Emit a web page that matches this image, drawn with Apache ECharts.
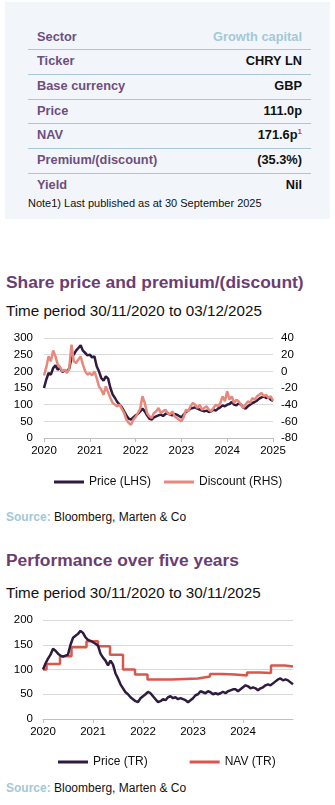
<!DOCTYPE html>
<html>
<head>
<meta charset="utf-8">
<script src="https://cdn.jsdelivr.net/npm/echarts@6/dist/echarts.min.js"></script>
<style>
  body { margin: 0; background: #ffffff; font-family: "Liberation Sans", Arial, sans-serif; }
  #page { position: relative; width: 335px; height: 805px; overflow: hidden; }
  .box { position: absolute; left: 5px; top: 2px; width: 325px; height: 217px; background: #f2f6fa; }
  .row { position: absolute; left: 28px; width: 283px; height: 24px; line-height: 24px; font-size: 12.8px; font-weight: bold; }
  .row .k { position: absolute; left: 9px; top: 0; color: #6e4f7e; }
  .row .v { position: absolute; right: 9px; top: 0; color: #111111; }
  .row .v.light { color: #a3c8d8; }
  .row sup { font-size: 8px; color: #d0443a; line-height: 0; vertical-align: 5px; }
  .rule { position: absolute; left: 28px; width: 283px; height: 1px; background: #a8c8d7; }
  .note { position: absolute; left: 28px; top: 196px; font-size: 11px; line-height: 14px; color: #111111; }
  .title { position: absolute; left: 6px; font-size: 17.4px; font-weight: bold; color: #6b3d73; line-height: 20px; white-space: nowrap; }
  .sub { position: absolute; left: 6px; font-size: 15.2px; color: #111111; line-height: 18px; white-space: nowrap; }
  .src { position: absolute; left: 6px; font-size: 12px; color: #111111; line-height: 14px; white-space: nowrap; }
  .src b { color: #a3c8d8; }
  .chart { position: absolute; left: 0; width: 335px; }
</style>
</head>
<body>
<div id="page">
  <div class="box"></div>
  <div class="row" style="top:25px"><span class="k">Sector</span><span class="v light">Growth capital</span></div>
  <div class="rule" style="top:49px"></div>
  <div class="row" style="top:49px"><span class="k">Ticker</span><span class="v">CHRY LN</span></div>
  <div class="rule" style="top:74px"></div>
  <div class="row" style="top:74px"><span class="k">Base currency</span><span class="v">GBP</span></div>
  <div class="rule" style="top:99px"></div>
  <div class="row" style="top:99px"><span class="k">Price</span><span class="v">111.0p</span></div>
  <div class="rule" style="top:123px"></div>
  <div class="row" style="top:123px"><span class="k">NAV</span><span class="v">171.6p<sup>1</sup></span></div>
  <div class="rule" style="top:148px"></div>
  <div class="row" style="top:148px"><span class="k">Premium/(discount)</span><span class="v">(35.3%)</span></div>
  <div class="rule" style="top:173px"></div>
  <div class="row" style="top:173px"><span class="k">Yield</span><span class="v">Nil</span></div>
  <div class="note">Note1) Last published as at 30 September 2025</div>

  <div class="title" style="top:272px">Share price and premium/(discount)</div>
  <div class="sub" style="top:302px">Time period 30/11/2020 to 03/12/2025</div>
  <div id="chart1" class="chart" style="top:320px;height:180px"></div>
  <div class="src" style="top:510px"><b>Source:</b> Bloomberg, Marten &amp; Co</div>

  <div class="title" style="top:550px">Performance over five years</div>
  <div class="sub" style="top:584px">Time period 30/11/2020 to 30/11/2025</div>
  <div id="chart2" class="chart" style="top:605px;height:165px"></div>
  <div class="src" style="top:781px"><b>Source:</b> Bloomberg, Marten &amp; Co</div>
</div>

<script>
// Sample dates, expressed in years on the axis (axis year N = 30 November of year N)
const sampleYears = [
  2020.00, 2020.05, 2020.10, 2020.15, 2020.20, 2020.25, 2020.30, 2020.35, 2020.40, 2020.45,
  2020.50, 2020.55, 2020.60, 2020.65, 2020.70, 2020.75, 2020.80, 2020.85, 2020.90, 2020.95,
  2021.00, 2021.05, 2021.10, 2021.15, 2021.20, 2021.25, 2021.30, 2021.35, 2021.40, 2021.45,
  2021.50, 2021.55, 2021.60, 2021.65, 2021.70, 2021.75, 2021.80, 2021.85, 2021.90, 2021.95,
  2022.00, 2022.05, 2022.10, 2022.15, 2022.20, 2022.25, 2022.30, 2022.35, 2022.40, 2022.45,
  2022.50, 2022.55, 2022.60, 2022.65, 2022.70, 2022.75, 2022.80, 2022.85, 2022.90, 2022.95,
  2023.00, 2023.05, 2023.10, 2023.15, 2023.20, 2023.25, 2023.30, 2023.35, 2023.40, 2023.45,
  2023.50, 2023.55, 2023.60, 2023.65, 2023.70, 2023.75, 2023.80, 2023.85, 2023.90, 2023.95,
  2024.00, 2024.05, 2024.10, 2024.15, 2024.20, 2024.25, 2024.30, 2024.35, 2024.40, 2024.45,
  2024.50, 2024.55, 2024.60, 2024.65, 2024.70, 2024.75, 2024.80, 2024.85, 2024.90, 2024.95,
  2025.00
];

// Share price, pence (left axis)
const sharePrice = [
  150, 175, 195, 190, 210, 218, 205, 210, 198, 202,
  200, 208, 240, 250, 262, 270, 278, 262, 255, 248,
  250, 242, 245, 215, 200, 180, 172, 185, 178, 150,
  130, 120, 108, 100, 92, 80, 68, 58, 55, 62,
  68, 72, 80, 88, 80, 68, 58, 55, 62, 65,
  68, 70, 66, 72, 75, 70, 68, 72, 70, 66,
  62, 70, 78, 82, 88, 90, 92, 88, 85, 82,
  80, 82, 78, 80, 85, 82, 88, 92, 98, 95,
  100, 102, 108, 100, 98, 104, 100, 92, 88, 95,
  100, 105, 108, 112, 118, 122, 125, 120, 122, 115,
  111
];

// Premium/(discount), % (right axis)
const discountPct = [
  -5, 5, 18, 12, 25, 18, 8, 5, 0, 2,
  -2, 3, 32, 12, 10, 14, 18, 8, 0, -4,
  -2, -5, 0, -8, -18, -22, -28, -18, -25, -32,
  -38, -40, -42, -40, -45, -50, -58, -62, -64, -58,
  -55, -50, -45, -30, -38, -50, -54, -56, -50, -48,
  -44, -50, -48, -46, -50, -52, -48, -54, -56, -58,
  -60, -55, -46, -48, -42, -38, -40, -44, -40, -46,
  -44, -42, -46, -48, -44, -40, -42, -38, -30, -36,
  -24, -34, -30, -38, -34, -36, -40, -44, -40, -36,
  -38, -32, -34, -30, -28, -26, -30, -28, -32, -30,
  -35.3
];

// Price total return, rebased to 100
const priceTR = [
  100, 112, 122, 130, 142, 138, 132, 128, 126, 128,
  130, 150, 164, 168, 172, 178, 174, 165, 160, 158,
  155, 152, 148, 132, 124, 118, 108, 118, 110, 92,
  82, 70, 62, 54, 50, 44, 40, 36, 34, 42,
  46, 50, 55, 52, 46, 40, 34, 36, 40, 38,
  44, 46, 42, 44, 40, 42, 40, 38, 34, 38,
  42, 48, 50, 56, 54, 52, 56, 54, 50, 52,
  50, 52, 55, 52, 56, 58, 60, 60, 56, 60,
  64, 68, 66, 62, 64, 62, 58, 62, 64, 68,
  70, 68, 72, 76, 80, 82, 78, 80, 78, 74,
  70
];

// NAV total return: dates of each published NAV and its rebased value
const navYears = [2020.00, 2020.07, 2020.34, 2020.57, 2020.87, 2021.10, 2021.34, 2021.60, 2021.84, 2022.09,
                  2022.57, 2023.10, 2023.34, 2023.58, 2023.84, 2024.08, 2024.34, 2024.56, 2024.84, 2025.00];
const navTR = [100, 111, 127, 145, 157, 147, 130, 100, 90, 80,
               82, 86, 91, 90, 88, 94, 93, 108, 106, 106];

const leftTicks = { min: 0, max: 300, interval: 50 };
const rightTicks = { min: -80, max: 40, interval: 20 };
const perfTicks = { min: 0, max: 200, interval: 50 };
const yearTicks = { min: 2020, max: 2025, interval: 1 };

const FONT = '"Liberation Sans", Arial, sans-serif';
const C_PRICE = '#2e1b3f';
const C_DISC = '#e8877b';
const C_NAV = '#d9574b';

function pairs(xs, ys) { return xs.map((x, i) => [x, ys[i]]); }

function xAxis(showMax) {
  return {
    type: 'value', min: yearTicks.min, max: yearTicks.max, interval: yearTicks.interval,
    axisLine: { show: true, lineStyle: { color: '#bfbfbf', width: 1 } },
    axisTick: { show: true, length: 4, lineStyle: { color: '#bfbfbf' } },
    splitLine: { show: false },
    axisLabel: { color: '#000', fontFamily: FONT, fontSize: 11.5, margin: 7, showMaxLabel: showMax,
                 formatter: v => String(Math.round(v)) }
  };
}

function yAxis(t, pos, grid, margin) {
  return {
    type: 'value', position: pos, min: t.min, max: t.max, interval: t.interval,
    axisLine: { show: false }, axisTick: { show: false },
    splitLine: { show: grid, lineStyle: { color: '#d9d9d9', width: 1 } },
    axisLabel: { color: '#000', fontFamily: FONT, fontSize: 11.5, margin: margin }
  };
}

const chart1 = echarts.init(document.getElementById('chart1'));
chart1.setOption({
  animation: false,
  grid: { left: 44, top: 18, width: 229, height: 100 },
  legend: {
    left: 49, top: 151, itemWidth: 30, itemHeight: 3, itemGap: 13, icon: 'rect',
    textStyle: { color: '#111', fontFamily: FONT, fontSize: 12 },
    data: ['Price (LHS)', 'Discount (RHS)']
  },
  xAxis: xAxis(true),
  yAxis: [yAxis(leftTicks, 'left', true, 11), yAxis(rightTicks, 'right', false, 8)],
  series: [
    { name: 'Price (LHS)', type: 'line', yAxisIndex: 0, data: pairs(sampleYears, sharePrice),
      showSymbol: false, lineStyle: { color: C_PRICE, width: 2.5 }, itemStyle: { color: C_PRICE }, z: 2 },
    { name: 'Discount (RHS)', type: 'line', yAxisIndex: 1, data: pairs(sampleYears, discountPct),
      showSymbol: false, lineStyle: { color: C_DISC, width: 2.5 }, itemStyle: { color: C_DISC }, z: 3 }
  ]
});

const chart2 = echarts.init(document.getElementById('chart2'));
chart2.setOption({
  animation: false,
  grid: { left: 43, top: 15, width: 250, height: 99 },
  legend: {
    left: 53, top: 146, itemWidth: 30, itemHeight: 3, itemGap: 42, icon: 'rect',
    textStyle: { color: '#111', fontFamily: FONT, fontSize: 12 },
    data: ['Price (TR)', 'NAV (TR)']
  },
  xAxis: xAxis(false),
  yAxis: yAxis(perfTicks, 'left', true, 10),
  series: [
    { name: 'Price (TR)', type: 'line', data: pairs(sampleYears, priceTR),
      showSymbol: false, lineStyle: { color: C_PRICE, width: 2.5 }, itemStyle: { color: C_PRICE }, z: 3 },
    { name: 'NAV (TR)', type: 'line', step: 'end', data: pairs(navYears, navTR),
      showSymbol: false, lineStyle: { color: C_NAV, width: 2.5 }, itemStyle: { color: C_NAV }, z: 2 }
  ]
});
</script>
</body>
</html>
